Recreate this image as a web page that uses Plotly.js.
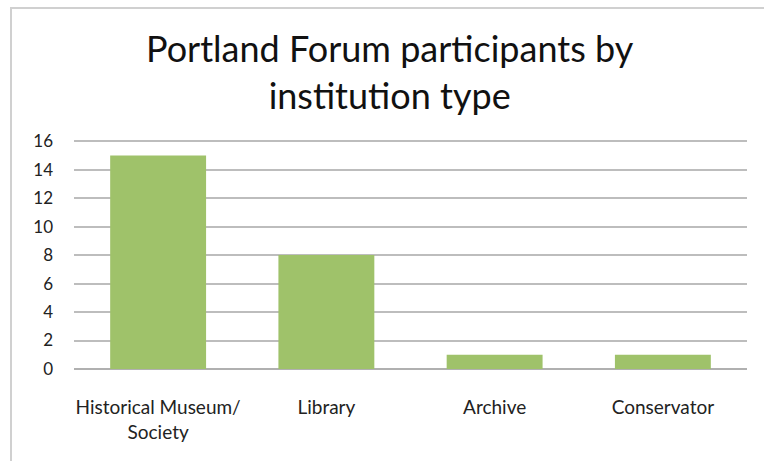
<!DOCTYPE html>
<html><head><meta charset="utf-8">
<script src="https://cdn.plot.ly/plotly-3.0.1.min.js"></script>
<style>
html,body{margin:0;padding:0;background:#fff;}
#frame{position:absolute;left:10px;top:7px;width:754px;height:454px;border-left:2px solid #d0d0d0;border-top:2px solid #d0d0d0;}
#chart{position:absolute;left:0;top:0;width:764px;height:461px;}
</style></head>
<body>
<div id="frame"></div>
<div id="chart"></div>
<script>
const categories = ["Historical Museum/<br>Society", "Library", "Archive", "Conservator"];
const participants = [15, 8, 1, 1];
const yTicks = [0, 2, 4, 6, 8, 10, 12, 14, 16];

const trace = {
  type: 'bar',
  x: categories,
  y: participants,
  marker: {color: '#9fc26a'},
  width: 0.57,
  hoverinfo: 'x+y'
};

const layout = {
  width: 764, height: 461,
  paper_bgcolor: 'rgba(0,0,0,0)',
  plot_bgcolor: 'rgba(0,0,0,0)',
  margin: {l: 74, r: 17, t: 139, b: 92},
  font: {family: 'Lato, "Open Sans", sans-serif', color: '#222'},
  title: {
    text: 'Portland Forum participants by<br>institution type',
    font: {size: 36, family: 'Lato, "Open Sans", sans-serif', color: '#111'},
    x: 0.51, xanchor: 'center', y: 0.866, yanchor: 'middle'
  },
  xaxis: {
    type: 'category',
    tickfont: {size: 19},
    showgrid: false, showline: false, zeroline: false,
    ticks: '', ticklen: 0, ticklabelstandoff: 25
  },
  yaxis: {
    range: [0, 16.15],
    tickvals: yTicks,
    ticktext: yTicks.map(String),
    tickfont: {size: 17},
    showgrid: true, gridcolor: '#bdbdbd', gridwidth: 2,
    zeroline: true, zerolinecolor: '#b0b0b0', zerolinewidth: 2,
    showline: false, ticks: '', ticklabelstandoff: 20
  },
  showlegend: false
};

Plotly.newPlot('chart', [trace], layout, {displayModeBar: false, staticPlot: true});
</script>
</body></html>
